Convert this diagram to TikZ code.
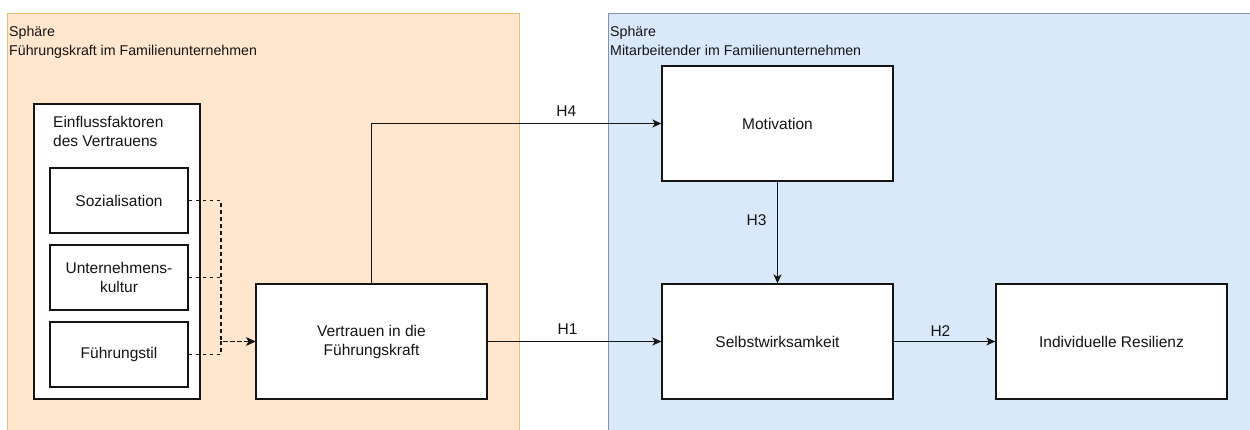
\documentclass[tikz,border=0pt]{standalone}
\usepackage{fontspec}
\setmainfont{Liberation Sans}
\usetikzlibrary{arrows.meta}

\definecolor{leaderfill}{HTML}{FFE6CC}
\definecolor{leaderline}{HTML}{E3C072}
\definecolor{staffill}{HTML}{DAE8FC}
\definecolor{staffline}{HTML}{7B93B5}
\definecolor{ink}{HTML}{141414}

\tikzset{
  sphere/.style={line width=1pt},
  title/.style={anchor=north west, inner sep=0pt, align=left, text=ink,
    font=\fontsize{14.2}{19}\selectfont},
  box/.style={draw=ink, fill=white, line width=1.3pt, rectangle, align=center,
    text=ink, font=\fontsize{15.5}{19}\selectfont, inner sep=0pt},
  conn/.style={draw=ink, line width=1.25pt,
    -{Stealth[length=9pt,width=8pt,inset=2.5pt]}},
  dashconn/.style={conn, dash pattern=on 3.5pt off 3.5pt},
  hlabel/.style={text=ink, font=\fontsize{15.5}{18}\selectfont, inner sep=0pt}
}

\begin{document}
\begin{tikzpicture}[x=1pt,y=-1pt]
\useasboundingbox (0,0) rectangle (1250,430);
\clip (0,0) rectangle (1250,430);
\fill[white] (0,0) rectangle (1250,430);

% the two spheres
\draw[sphere, draw=leaderline, fill=leaderfill] (7,14) rectangle (519,445);
\draw[sphere, draw=staffline, fill=staffill] (608,14) rectangle (1265,445);
\node[title] (leadertitle) at (9,26) {Sphäre\\Führungskraft im Familienunternehmen};
\node[title] (stafftitle) at (610,26) {Sphäre\\Mitarbeitender im Familienunternehmen};

% influence factors
\node[box, minimum width=166pt, minimum height=295pt] (einfluss) at (117,251.5) {};
\node[anchor=north west, inner sep=0pt, align=left, text=ink,
  font=\fontsize{15.5}{19}\selectfont] (einflusstitle) at (53,116) {Einflussfaktoren\\des Vertrauens};
\node[box, minimum width=138pt, minimum height=65pt] (soz) at (119,200.5) {Sozialisation};
\node[box, minimum width=138pt, minimum height=65pt] (ukultur) at (119,277.5) {Unternehmens-\\kultur};
\node[box, minimum width=138pt, minimum height=65pt] (fstil) at (119,354.5) {Führungstil};

% main constructs
\node[box, minimum width=231pt, minimum height=115pt] (vert) at (371.5,341.5) {Vertrauen in die\\Führungskraft};
\node[box, minimum width=231pt, minimum height=115pt] (motiv) at (777.5,123.5) {Motivation};
\node[box, minimum width=231pt, minimum height=115pt] (selbst) at (777.5,341.5) {Selbstwirksamkeit};
\node[box, minimum width=231pt, minimum height=115pt] (resil) at (1111.5,341.5) {Individuelle Resilienz};

% dashed links from the factors
\coordinate (merge) at (221,341.5);
\draw[dashconn] (soz.east) -- (soz.east -| merge) -- (merge) -- (vert.west);
\draw[dashconn] (ukultur.east) -- (ukultur.east -| merge) -- (merge) -- (vert.west);
\draw[dashconn] (fstil.east) -- (fstil.east -| merge) -- (merge) -- (vert.west);

% hypotheses
\draw[conn] (vert.north) |- (motiv.west)
  node[hlabel, pos=0.836, yshift=12pt] (h4) {H4};
\draw[conn] (vert.east) -- (selbst.west)
  node[hlabel, pos=0.46, yshift=12pt] (h1) {H1};
\draw[conn] (motiv.south) -- (selbst.north)
  node[hlabel, pos=0.38, xshift=-21pt] (h3) {H3};
\draw[conn] (selbst.east) -- (resil.west)
  node[hlabel, pos=0.46, yshift=10pt] (h2) {H2};
\end{tikzpicture}
\end{document}
